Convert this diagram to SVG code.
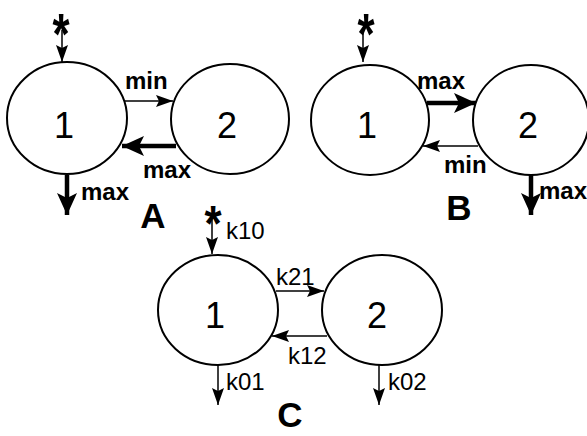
<svg xmlns="http://www.w3.org/2000/svg" width="587" height="436" viewBox="0 0 587 436">
<style>
.node{fill:#fff;stroke:#000;stroke-width:2}
.num{font-family:"Liberation Sans",Arial,sans-serif;font-size:36px;text-anchor:middle;fill:#000}
.lb{font-family:"Liberation Sans",Arial,sans-serif;font-size:24px;font-weight:bold;fill:#000}
.kl{font-family:"Liberation Sans",Arial,sans-serif;font-size:24px;fill:#000}
.pl{font-family:"Liberation Sans",Arial,sans-serif;font-size:35px;font-weight:bold;fill:#000;text-anchor:middle}
.star{font-family:"Liberation Sans",Arial,sans-serif;font-size:44px;font-weight:bold;fill:#000;text-anchor:middle}
.thin{stroke:#000;stroke-width:1.5;fill:none;marker-end:url(#hs)}
.thick{stroke:#000;stroke-width:4.5;fill:none;marker-end:url(#hb)}
</style>
<defs>
<marker id="hs" markerUnits="userSpaceOnUse" markerWidth="17" markerHeight="12" refX="17" refY="6" orient="auto" overflow="visible">
<path d="M0,0 L17,6 L0,12 L3,6 z" fill="#000"/>
</marker>
<marker id="hb" markerUnits="userSpaceOnUse" markerWidth="22" markerHeight="20" refX="22" refY="10" orient="auto" overflow="visible">
<path d="M0,0 L22,10 L0,20 L5,10 z" fill="#000"/>
</marker>
</defs>
<g id="connectors">
<line class="thin" x1="62" y1="30" x2="62" y2="62"/>
<line class="thin" x1="125" y1="101" x2="173" y2="101"/>
<line class="thick" x1="176" y1="146" x2="122" y2="146"/>
<line class="thick" x1="67" y1="175" x2="67" y2="215"/>
<line class="thin" x1="363" y1="30" x2="363" y2="62"/>
<line class="thick" x1="427" y1="103" x2="476" y2="103"/>
<line class="thin" x1="478" y1="146" x2="423" y2="146"/>
<line class="thick" x1="531" y1="175" x2="531" y2="215"/>
<line class="thin" x1="212" y1="215" x2="212" y2="254"/>
<line class="thin" x1="276" y1="291" x2="324" y2="291"/>
<line class="thin" x1="327" y1="336" x2="272" y2="336"/>
<line class="thin" x1="218" y1="365" x2="218" y2="405"/>
<line class="thin" x1="379" y1="365" x2="379" y2="405"/>
</g>
<g id="A1"><ellipse class="node" cx="67" cy="118" rx="60" ry="56"/><text class="num" x="64" y="138">1</text></g>
<g id="A2"><ellipse class="node" cx="230" cy="119" rx="59" ry="55"/><text class="num" x="227" y="138">2</text></g>
<g id="B1"><ellipse class="node" cx="370" cy="120" rx="59" ry="55"/><text class="num" x="367" y="138">1</text></g>
<g id="B2"><ellipse class="node" cx="531" cy="120" rx="58" ry="55"/><text class="num" x="528" y="138">2</text></g>
<g id="C1"><ellipse class="node" cx="218" cy="310" rx="60" ry="55"/><text class="num" x="215" y="328">1</text></g>
<g id="C2"><ellipse class="node" cx="382" cy="310" rx="60" ry="55"/><text class="num" x="377" y="328">2</text></g>
<g id="labels">
<text class="star" transform="translate(61,54) scale(1,1.3)">*</text>
<text class="star" transform="translate(366,54) scale(1,1.3)">*</text>
<text class="star" transform="translate(213,241) scale(1,1.15)">*</text>
<text class="lb" x="125" y="89">min</text>
<text class="lb" x="143" y="178">max</text>
<text class="lb" x="81" y="200">max</text>
<text class="lb" x="417" y="89">max</text>
<text class="lb" x="444" y="173">min</text>
<text class="lb" x="539" y="199">max</text>
<text class="kl" x="226" y="239">k10</text>
<text class="kl" x="276" y="285">k21</text>
<text class="kl" x="288" y="364">k12</text>
<text class="kl" x="226" y="390">k01</text>
<text class="kl" x="388" y="390">k02</text>
<text class="pl" x="153" y="228">A</text>
<text class="pl" x="459" y="220">B</text>
<text class="pl" x="290" y="427">C</text>
</g>
</svg>
